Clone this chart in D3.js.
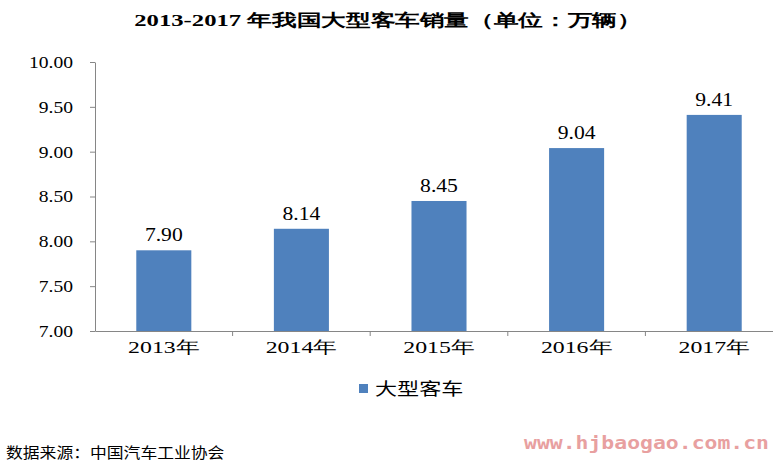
<!DOCTYPE html>
<html><head><meta charset="utf-8">
<script src="https://cdn.jsdelivr.net/npm/d3@7"></script>
<style>body{margin:0;background:#fff}</style>
</head><body>
<svg id="chart" width="773" height="468"></svg>
<script>
const years = ["2013年", "2014年", "2015年", "2016年", "2017年"];
const sales = [7.90, 8.14, 8.45, 9.04, 9.41];
const yTicks = [7.00, 7.50, 8.00, 8.50, 9.00, 9.50, 10.00];

const svg = d3.select("#chart"),
      serif = "'Liberation Serif','Times New Roman',serif",
      cjk = "'Noto Sans CJK SC',sans-serif";

// the reference text is stretched sideways
function stretch(sel, f) {
    sel.each(function() {
        const w = this.getComputedTextLength();
        d3.select(this).attr("textLength", w * f).attr("lengthAdjust", "spacingAndGlyphs");
    });
}

const x = d3.scaleBand().domain(years).range([95, 783]).paddingInner(0.6).paddingOuter(0.3);
const y = d3.scaleLinear().domain([7, 10]).range([331, 62]);

const yAxis = svg.append("g").attr("transform", "translate(95,0)")
    .call(d3.axisLeft(y).tickValues(yTicks).tickFormat(d3.format(".2f")).tickSize(5).tickSizeOuter(0));
const xAxis = svg.append("g").attr("transform", "translate(0,331)")
    .call(d3.axisBottom(x).tickSize(0).tickSizeOuter(0));
[yAxis, xAxis].forEach(a => {
    a.selectAll("path,line").attr("stroke", "#868686");
    a.selectAll("text").attr("fill", "#000").style("font-family", serif).style("font-size", "17px");
});
yAxis.selectAll("text").attr("x", -22);
xAxis.selectAll("text").attr("dy", "1.1em");
stretch(yAxis.selectAll("text"), 1.15);
stretch(xAxis.selectAll("text"), 1.4);
const step = x.step();
xAxis.selectAll("line.sep").data(d3.range(1, years.length + 1)).enter().append("line")
    .attr("x1", i => 95 + step * i).attr("x2", i => 95 + step * i)
    .attr("y1", 0).attr("y2", 5).attr("stroke", "#868686");

svg.selectAll("rect.bar").data(sales).enter().append("rect")
    .attr("class", "bar")
    .attr("x", (d, i) => x(years[i]))
    .attr("width", x.bandwidth())
    .attr("y", d => y(d))
    .attr("height", d => y(7) - y(d))
    .attr("fill", "#4F81BD");

const vals = svg.selectAll("text.val").data(sales).enter().append("text")
    .attr("x", (d, i) => x(years[i]) + x.bandwidth() / 2)
    .attr("y", d => y(d) - 9)
    .attr("text-anchor", "middle")
    .style("font-family", serif).style("font-size", "18px")
    .text(d => d.toFixed(2));
stretch(vals, 1.2);

const title = svg.append("text").attr("x", 388).attr("y", 26).attr("text-anchor", "middle")
    .style("font-family", serif).style("font-size", "17px").style("font-weight", "bold")
    .text("2013-2017 年我国大型客车销量（单位：万辆）");
stretch(title, 1.45);

svg.append("rect").attr("x", 359).attr("y", 384).attr("width", 9).attr("height", 9).attr("fill", "#4F81BD");
const leg = svg.append("text").attr("x", 375).attr("y", 395).style("font-family", cjk).style("font-size", "17px").text("大型客车");
stretch(leg, 1.3);

const src = svg.append("text").attr("x", 6).attr("y", 458).style("font-family", cjk).style("font-size", "15px").text("数据来源：中国汽车工业协会");
stretch(src, 1.12);
svg.append("text").attr("x", 769).attr("y", 449).attr("text-anchor", "end")
    .style("font-family", "'DejaVu Sans Mono',monospace").style("font-size", "18px").style("font-weight", "bold")
    .attr("fill", "#e8a0a0").attr("textLength", 245).attr("lengthAdjust", "spacingAndGlyphs")
    .text("www.hjbaogao.com.cn");
</script>
</body></html>
